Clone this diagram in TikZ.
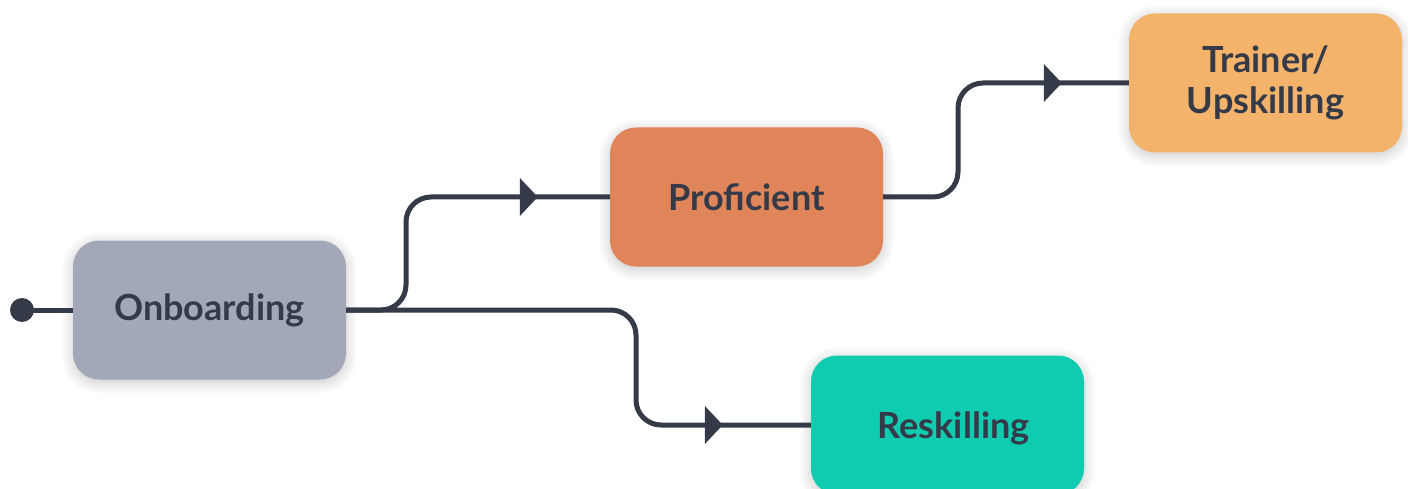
\documentclass[tikz,border=0pt]{standalone}
\usepackage{fontspec}
\setmainfont{Lato}
\usetikzlibrary{arrows.meta,shadows.blur,decorations.markings}

\definecolor{ink}{HTML}{343A47}
\definecolor{slategrey}{HTML}{A3A8B8}
\definecolor{coral}{HTML}{E0845A}
\definecolor{apricot}{HTML}{F4B36B}
\definecolor{teal}{HTML}{0FCBB0}

\tikzset{
  stage/.style={rounded corners=26pt, minimum width=273pt, minimum height=139pt,
    inner sep=0pt, align=center, text=ink,
    font=\fontsize{36}{41}\selectfont\bfseries,
    blur shadow={shadow xshift=0pt, shadow yshift=-3pt, shadow blur radius=12pt,
      shadow blur steps=10, shadow opacity=22}},
  flow/.style={draw=ink, line width=5pt, rounded corners=25pt},
  tipat/.style={postaction={decorate}, decoration={markings,
    mark=at position #1 with {\arrow{Triangle[length=18pt,width=37pt]}}}},
}

\begin{document}
\begin{tikzpicture}[x=1pt,y=-1pt]
  \useasboundingbox (0,0) rectangle (1408,489);

  % stages
  \node[stage, fill=slategrey] (ob)   at (209.5,310) {Onboarding};
  \node[stage, fill=coral]     (prof) at (746.5,197) {Proficient};
  \node[stage, fill=apricot]   (up)   at (1265.5,83) {Trainer/\\Upskilling};
  \node[stage, fill=teal, text width=273pt, text depth=0pt]
                               (res)  at (947.5,425) {\hspace*{12pt}Reskilling};

  % entry point
  \coordinate (start) at (22,310);
  \fill[ink] (start) circle (12pt);
  \draw[flow] (start) -- (ob.west);

  % transitions
  \draw[flow, tipat=-72pt] (ob.east) -- (406,310) |- (prof.west);
  \draw[flow, tipat=-88pt] (ob.east) -- (636,310) |- (res.west);
  \draw[flow, tipat=-67pt] (prof.east) -- (958,197) |- (up.west);
\end{tikzpicture}
\end{document}
